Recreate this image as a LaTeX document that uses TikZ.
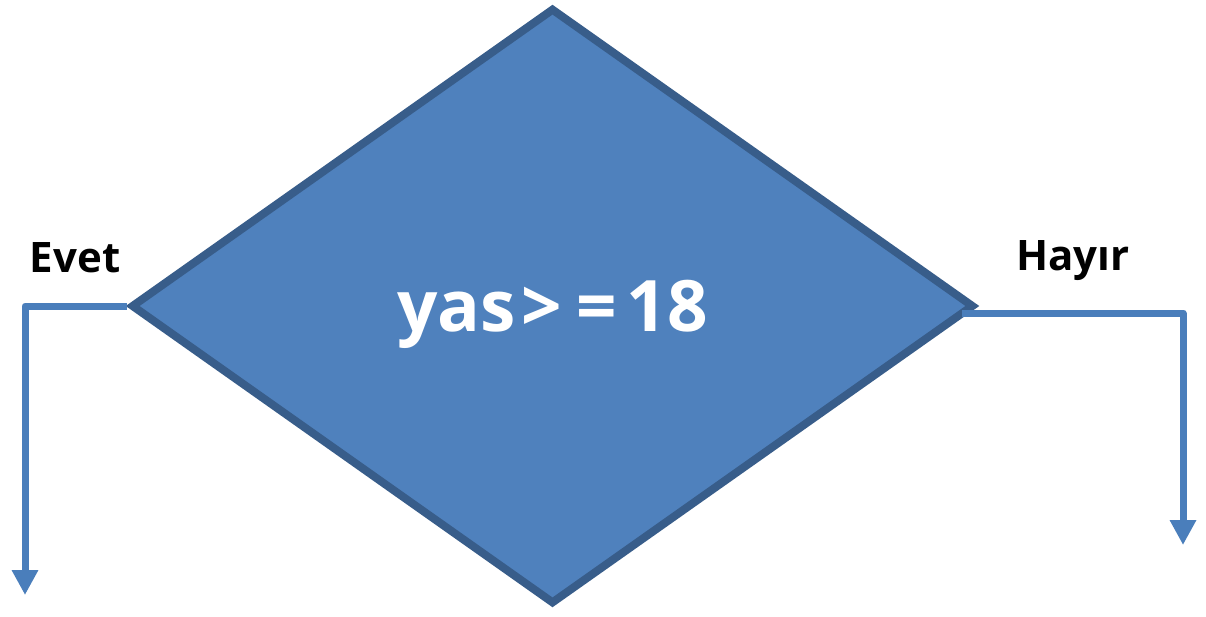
\documentclass[tikz,border=0pt]{standalone}
\usepackage{fontspec}
\setmainfont{Open Sans}
\usetikzlibrary{shapes.geometric,arrows.meta}
\definecolor{karofill}{HTML}{4F81BD}
\definecolor{karoline}{HTML}{385D8A}
\definecolor{okline}{HTML}{4A7EBB}

\begin{document}
\begin{tikzpicture}[x=1pt,y=-1pt,
  decision/.style={diamond,draw=karoline,fill=karofill,line width=8pt,inner sep=0pt,
    minimum width=843pt,minimum height=596pt,text=white,text depth=0pt,
    font=\fontsize{71}{80}\selectfont\bfseries},
  flow/.style={draw=okline,line width=7pt,line join=round,-{Triangle[width=25pt,length=25pt]}},
  lbl/.style={font=\fontsize{42}{48}\selectfont\bfseries,anchor=base}]
\useasboundingbox (0,0) rectangle (1206,616);
\node[decision] (kosul) at (552.5,306) {yas\hspace{6pt}>\hspace{14pt}=\hspace{10pt}18};
\node[lbl] (evet) at (75,272) {Evet};
\node[lbl] (hayir) at (1073,270) {Hayır};
\coordinate (evetuc) at (25,595);
\coordinate (hayiruc) at (1183,545);
\draw[flow] (kosul.west) -| (evetuc);
\draw[flow] ([shift={(-16,7)}]kosul.east) -| (hayiruc);
\end{tikzpicture}
\end{document}
